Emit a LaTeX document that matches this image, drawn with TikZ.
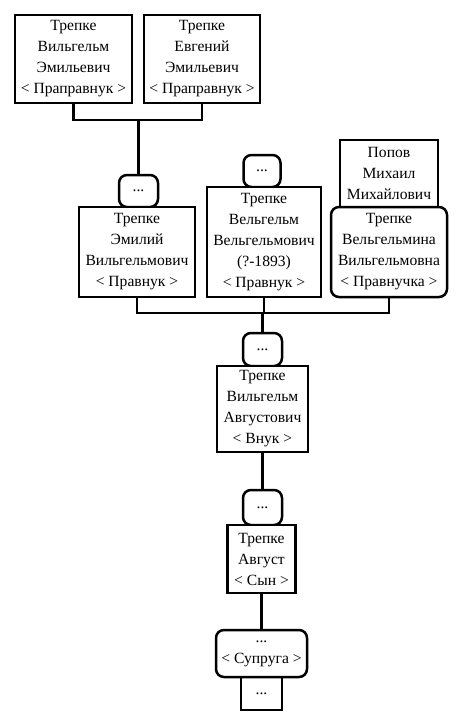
\documentclass[tikz,border=0pt]{standalone}
\usepackage{fontspec}
\setmainfont{Liberation Serif}
\begin{document}
\begin{tikzpicture}[x=1pt,y=-1pt,
  box/.style={draw=black,fill=white,line width=2.5pt,inner sep=0pt,align=center,
    font=\fontsize{15.6}{21}\selectfont},
  rbox/.style={box,rounded corners=8pt},
  link/.style={draw=black,line width=2.5pt}]
\fill[white] (0,0) rectangle (461,725);
\useasboundingbox (0,0) rectangle (461,725);
% generation 1
\node[box,minimum width=117pt,minimum height=88pt] (a) at (73.5,59) {Трепке\\Вильгельм\\Эмильевич\\< Праправнук >};
\node[box,minimum width=116pt,minimum height=88pt] (b) at (202,59) {Трепке\\Евгений\\Эмильевич\\< Праправнук >};
% generation 2
\node[rbox,minimum width=39pt,minimum height=32pt] (e1) at (138.5,191) {...};
\node[box,minimum width=116pt,minimum height=90pt] (c) at (137,252) {Трепке\\Эмилий\\Вильгельмович\\< Правнук >};
\node[rbox,minimum width=37pt,minimum height=32pt] (e2) at (262,171) {...};
\node[box,minimum width=114pt,minimum height=110pt] (d) at (264,242) {Трепке\\Вельгельм\\Вельгельмович\\(?-1893)\\< Правнук >};
\node[box,minimum width=98pt,minimum height=67pt] (p) at (389,173.5) {Попов\\Михаил\\Михайлович};
\node[rbox,minimum width=116pt,minimum height=90pt] (e) at (389,252) {Трепке\\Вельгельмина\\Вильгельмовна\\< Правнучка >};
% generation 3
\node[rbox,minimum width=39pt,minimum height=33pt] (e3) at (262.5,349.5) {...};
\node[box,minimum width=91pt,minimum height=86pt] (f) at (262.5,409) {Трепке\\Вильгельм\\Августович\\< Внук >};
% generation 4
\node[rbox,minimum width=39pt,minimum height=35pt] (e4) at (262.5,507.5) {...};
\node[box,minimum width=68pt,minimum height=68pt] (g) at (261.5,559) {Трепке\\Август\\< Сын >};
% generation 5
\node[box,minimum width=41pt,minimum height=33pt] (e5) at (261.5,693.5) {...};
\node[rbox,minimum width=91pt,minimum height=47pt] (h) at (261.5,653.5) {...\\< Супруга >};
% connectors
\coordinate (j1) at (138.5,120);
\coordinate (j2) at (262.5,313);
\draw[link] (a.south) -- (a.south |- j1) -- (b.south |- j1) -- (b.south);
\draw[link] (j1) -- (e1.north);
\draw[link] (c.south) -- (c.south |- j2) -- (e.south |- j2) -- (e.south);
\draw[link] (d.south) -- (d.south |- j2);
\draw[link] (j2) -- (e3.north);
\draw[link] (f.south) -- (e4.north);
\draw[link] (g.south) -- (h.north);
\end{tikzpicture}
\end{document}
